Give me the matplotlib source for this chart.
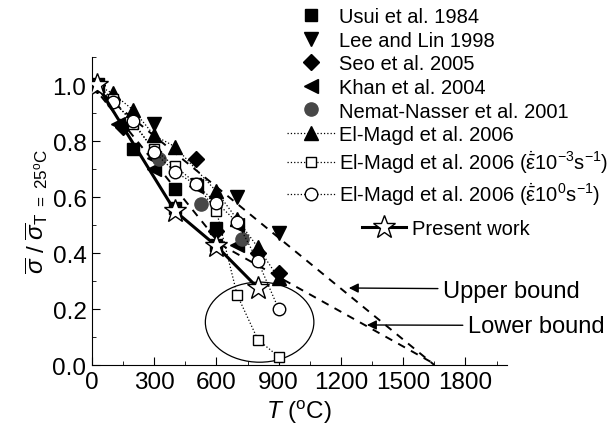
import numpy as np
import matplotlib
matplotlib.use('Agg')
import matplotlib.pyplot as plt
from matplotlib.patches import Ellipse
from matplotlib.ticker import MultipleLocator, FormatStrFormatter

plt.rcParams['font.family'] = ['Liberation Sans', 'DejaVu Sans']
plt.rcParams['mathtext.fontset'] = 'custom'
plt.rcParams['mathtext.rm'] = 'Liberation Sans'
plt.rcParams['mathtext.it'] = 'Liberation Sans:italic'
plt.rcParams['mathtext.bf'] = 'Liberation Sans:bold'

#Data (T in degC, normalised flow stress)
usui_T = [25, 200, 400, 400, 600, 600]
usui_s = [1.0, 0.77, 0.63, 0.56, 0.49, 0.43]
lee_T = [25, 300, 700, 900]
lee_s = [1.0, 0.86, 0.60, 0.47]
seo_T = [25, 150, 500, 600, 800, 900]
seo_s = [1.0, 0.85, 0.735, 0.48, 0.40, 0.33]
khan_T = [25, 125, 300, 300, 500, 700, 700]
khan_s = [1.0, 0.86, 0.74, 0.70, 0.64, 0.50, 0.43]
nemat_T = [325, 525, 725]
nemat_s = [0.735, 0.575, 0.45]
elmagd_T = [25, 100, 200, 300, 400, 600, 700, 800, 900]
elmagd_s = [1.0, 0.97, 0.91, 0.82, 0.78, 0.62, 0.52, 0.42, 0.31]
elmagd3_T = [25, 100, 200, 300, 400, 500, 600, 700, 800, 900]
elmagd3_s = [1.0, 0.95, 0.86, 0.77, 0.71, 0.65, 0.55, 0.25, 0.09, 0.03]
elmagd0_T = [25, 100, 200, 300, 400, 500, 600, 700, 800, 900]
elmagd0_s = [1.0, 0.94, 0.87, 0.76, 0.69, 0.645, 0.58, 0.51, 0.37, 0.20]
present_T = [25, 400, 600, 800]
present_s = [1.0, 0.55, 0.425, 0.275]
upper_T = [0, 1650]
upper_s = [1.0, 0.0]
lower_T = [0, 620, 1660]
lower_s = [1.0, 0.43, 0.0]

fig = plt.figure(figsize=(6.13, 4.35), dpi=100)
ax = fig.add_axes([0.150, 0.1586, 0.677, 0.708])

#bounds
ax.plot(upper_T, upper_s, color='k', lw=1.4, ls=(0, (4, 3.5)), zorder=1)
ax.plot(lower_T, lower_s, color='k', lw=1.4, ls=(0, (4, 3.5)), zorder=1)

eps = r'$\dot{\bar{\mathrm{\varepsilon}}}$'
h = []
h += ax.plot(usui_T, usui_s, 's', color='k', ms=8.5, ls='none', label='Usui et al. 1984')
h += ax.plot(lee_T, lee_s, 'v', color='k', ms=10.5, ls='none', label='Lee and Lin 1998')
h += ax.plot(seo_T, seo_s, 'D', color='k', ms=8.5, ls='none', label='Seo et al. 2005')
h += ax.plot(khan_T, khan_s, '<', color='k', ms=10.5, ls='none', label='Khan et al. 2004')
h += ax.plot(nemat_T, nemat_s, 'o', color='#474747', ms=9.5, ls='none', label='Nemat-Nasser et al. 2001')
h += ax.plot(elmagd_T, elmagd_s, '^', color='k', ms=10.5, ls=':', lw=0.9, label='El-Magd et al. 2006')
h += ax.plot(elmagd3_T, elmagd3_s, 's', mfc='white', mec='k', color='k', ms=7.5, ls=':', lw=0.9,
             label='El-Magd et al. 2006 (' + eps + r'10$^{-3}$s$^{-1}$)')
h += ax.plot(elmagd0_T, elmagd0_s, 'o', mfc='white', mec='k', color='k', ms=9, ls=':', lw=0.9,
             label='El-Magd et al. 2006 (' + eps + r'10$^{0}$s$^{-1}$)')
hp = ax.plot(present_T, present_s, '*', mfc='white', mec='k', color='k', ms=17, mew=1.0,
             ls='-', lw=2.2, label='Present work', zorder=5)

ax.add_patch(Ellipse((808, 0.153), 523, 0.286, fill=False, ec='k', lw=0.9))

ax.annotate('Upper bound', xy=(1238, 0.275), xytext=(1694, 0.265), fontsize=17,
            ha='left', va='center', annotation_clip=False,
            arrowprops=dict(arrowstyle='-|>', color='k', lw=1.0, relpos=(0, 0.6),
                            shrinkA=2, shrinkB=0, mutation_scale=14))
ax.annotate('Lower bound', xy=(1325, 0.143), xytext=(1814, 0.138), fontsize=17,
            ha='left', va='center', annotation_clip=False,
            arrowprops=dict(arrowstyle='-|>', color='k', lw=1.0, relpos=(0, 0.55),
                            shrinkA=2, shrinkB=0, mutation_scale=14))

ax.set_xlim(0, 2000)
ax.set_ylim(0, 1.1)
ax.set_xticks([0, 300, 600, 900, 1200, 1500, 1800])
ax.xaxis.set_minor_locator(MultipleLocator(150))
ax.set_yticks([0.0, 0.2, 0.4, 0.6, 0.8, 1.0])
ax.yaxis.set_minor_locator(MultipleLocator(0.1))
ax.yaxis.set_major_formatter(FormatStrFormatter('%.1f'))
ax.tick_params(which='both', direction='in', labelsize=17.5, pad=4)
ax.tick_params(which='major', length=5.5)
ax.tick_params(which='minor', length=3)
ax.spines['top'].set_visible(False)
ax.spines['right'].set_visible(False)

ax.set_xlabel(r'$\it{T}$ ($^{\mathrm{o}}$C)', fontsize=17.5, labelpad=4)
ax.set_ylabel(r'$\overline{\sigma}$ / $\overline{\sigma}_{\mathrm{T\ =\ 25^{o}C}}$', fontsize=17.5, labelpad=2)

fig.legend(handles=h, loc='upper left', bbox_to_anchor=(287/613, 1 - 8/435),
           frameon=False, fontsize=14.5, handlelength=2.4, handletextpad=0.2,
           labelspacing=0.23, borderpad=0, borderaxespad=0, numpoints=1)
fig.legend(handles=hp, loc='upper left', bbox_to_anchor=(362/613, 1 - 220/435),
           frameon=False, fontsize=14.5, handlelength=2.2, handletextpad=0.3,
           borderpad=0, borderaxespad=0, numpoints=1)

fig.savefig('out.png', dpi=100)
